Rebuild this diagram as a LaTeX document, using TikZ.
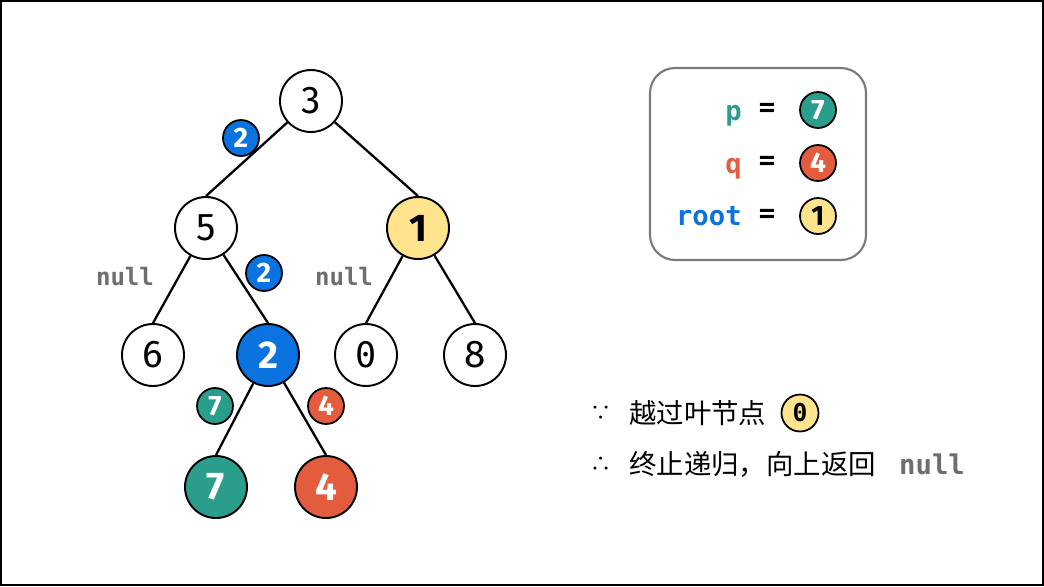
\documentclass[tikz,border=0pt]{standalone}
\usepackage{fontspec}
\setmainfont{Fira Sans}
\newfontfamily\codefont{DejaVu Sans Mono}
\newfontfamily\cjkfont{Noto Sans CJK SC}
\usepackage{tikz}
\definecolor{pblue}{HTML}{0A73E0}
\definecolor{pteal}{HTML}{2A9D8C}
\definecolor{pred}{HTML}{E45C3E}
\definecolor{pyellow}{HTML}{FFE38D}
\definecolor{nullgray}{HTML}{6E6E6E}
\definecolor{boxgray}{HTML}{7A7A7A}

\begin{document}
\begin{tikzpicture}[x=0.02cm,y=-0.02cm,
  tnode/.style={circle,draw,line width=1.1pt,minimum size=1.24cm,inner sep=0pt,fill=white,
    font=\fontsize{22}{22}\selectfont},
  badge/.style={circle,draw,line width=1pt,minimum size=0.72cm,inner sep=0pt,text=white,
    font=\fontsize{16}{16}\selectfont\bfseries},
  tree/.style={line width=1.3pt},
  nulltext/.style={text=nullgray,font=\codefont\fontsize{13.7}{14}\selectfont\bfseries},
  codetext/.style={inner sep=0pt,font=\codefont\fontsize{15.5}{16}\selectfont\bfseries},
  cjktext/.style={font=\cjkfont\fontsize{15.6}{17}\selectfont}]
\useasboundingbox (0,0) rectangle (1044,586);
\draw[line width=1.2pt] (1,1) rectangle (1043,585);

% tree
\node[tnode] (n3) at (311,101) {3};
\node[tnode] (n5) at (206,228) {5};
\node[tnode,fill=pyellow,font=\fontsize{22}{22}\selectfont\bfseries] (n1) at (418,228) {1};
\node[tnode] (n6) at (153,355) {6};
\node[tnode,fill=pblue,text=white,font=\fontsize{22}{22}\selectfont\bfseries] (n2) at (268,355) {2};
\node[tnode,font=\codefont\fontsize{20}{20}\selectfont] (n0) at (366,355) {0};
\node[tnode] (n8) at (475,355) {8};
\node[tnode,fill=pteal,text=white,font=\fontsize{22}{22}\selectfont\bfseries] (n7) at (216,487) {7};
\node[tnode,fill=pred,text=white,font=\fontsize{22}{22}\selectfont\bfseries] (n4) at (326,487) {4};

\draw[tree] (n3) -- (n5.north);
\draw[tree] (n3) -- (n1.north);
\draw[tree] (n5) -- (n6.north);
\draw[tree] (n5) -- (n2.north);
\draw[tree] (n1) -- (n0.north);
\draw[tree] (n1) -- (n8.north);
\draw[tree] (n2) -- (n7.north);
\draw[tree] (n2) -- (n4.north);

% returned values
\node[badge,fill=pblue] (b35) at (241,138) {2};
\node[badge,fill=pblue] (b52) at (264,273) {2};
\node[badge,fill=pteal] (b27) at (215,406) {7};
\node[badge,fill=pred] (b24) at (326,406) {4};
\node[nulltext] (null6) at (125,277) {null};
\node[nulltext] (null0) at (344,277) {null};

% legend
\node[draw=boxgray,line width=1.2pt,rounded corners=0.5cm,minimum width=4.32cm,minimum height=3.84cm] (legend) at (758,164) {};
\node[codetext,text=pteal,anchor=base east] (lp) at (742,120) {p};
\node[codetext,text=pred,anchor=base east] (lq) at (742,173) {q};
\node[codetext,text=pblue,anchor=base east] (lroot) at (742,225) {root};
\node[codetext] (eqp) at (767,110) {=};
\node[codetext] (eqq) at (767,163) {=};
\node[codetext] (eqr) at (767,216) {=};
\node[badge,fill=pteal] (vp) at (818,110) {7};
\node[badge,fill=pred] (vq) at (818,163) {4};
\node[badge,fill=pyellow,text=black] (vr) at (818,216) {1};

% note
\node[cjktext,font=\cjkfont\fontsize{12}{14}\selectfont] (since) at (601,413) {∵};
\node[cjktext,anchor=west] (line1) at (623,413) {越过叶节点};
\node[badge,fill=pyellow,text=black,minimum size=0.74cm,font=\codefont\fontsize{14}{14}\selectfont\bfseries] (leaf0) at (800,413) {0};
\node[cjktext,font=\cjkfont\fontsize{12}{14}\selectfont] (hence) at (601,464) {∴};
\node[cjktext,anchor=west] (line2) at (623,464) {终止递归，向上返回};
\node[nulltext,font=\codefont\fontsize{15.5}{16}\selectfont\bfseries,anchor=west] (nullret) at (893,464) {null};
\end{tikzpicture}
\end{document}
